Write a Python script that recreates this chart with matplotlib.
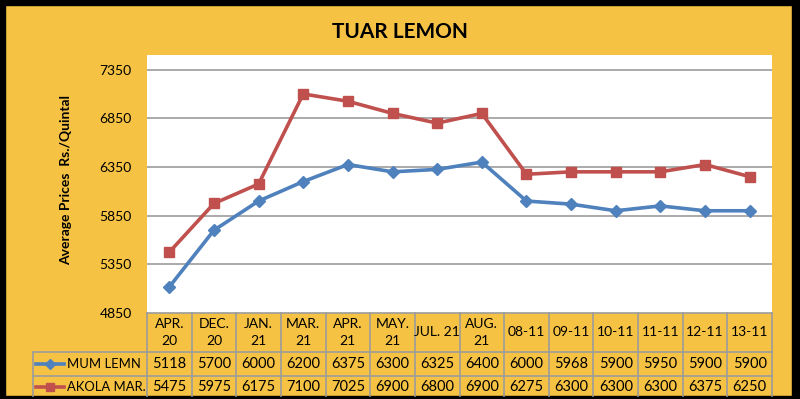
import matplotlib
matplotlib.use("Agg")
import matplotlib.pyplot as plt
from matplotlib.patches import Rectangle
from matplotlib.lines import Line2D

plt.rcParams['font.family'] = ['Lato', 'DejaVu Sans']

title = "TUAR LEMON"
ylabel = "Average Prices  Rs./Quintal"
categories = ["APR.\n20", "DEC.\n20", "JAN.\n21", "MAR.\n21", "APR.\n21", "MAY.\n21", "JUL. 21",
              "AUG.\n21", "08-11", "09-11", "10-11", "11-11", "12-11", "13-11"]
series_names = ["MUM LEMN", "AKOLA MAR."]
mum_lemn = [5118, 5700, 6000, 6200, 6375, 6300, 6325, 6400, 6000, 5968, 5900, 5950, 5900, 5900]
akola_mar = [5475, 5975, 6175, 7100, 7025, 6900, 6800, 6900, 6275, 6300, 6300, 6300, 6375, 6250]
yticks = [4850, 5350, 5850, 6350, 6850, 7350]

W, H = 800, 399
BG = "#F6C244"
BLUE = "#4F81BD"
RED = "#C0504D"
GRID = "#9C9C9C"

fig = plt.figure(figsize=(W / 100, H / 100), dpi=100, facecolor=BG)

def fx(x):
    return x / W

def fy(y):
    return 1 - y / H

# plot area
L, R, T, B = 147, 772, 55, 313
ax = fig.add_axes([fx(L), fy(B), (R - L) / W, (B - T) / H])
ax.set_facecolor("white")
n = len(categories)
xs = list(range(n))
ax.set_xlim(-0.5, n - 0.5)
ax.set_ylim(4850, 7500)
for v in yticks[1:]:
    ax.axhline(v, color=GRID, lw=1.2, zorder=1)
ax.plot(xs, mum_lemn, color=BLUE, lw=2.6, marker='D', ms=6, mfc=BLUE, mec=BLUE, zorder=3)
ax.plot(xs, akola_mar, color=RED, lw=2.6, marker='s', ms=7, mfc=RED, mec=RED, zorder=3)
ax.set_xticks([])
ax.set_yticks(yticks)
ax.set_yticklabels([str(v) for v in yticks], fontsize=10)
ax.tick_params(axis='y', length=0, pad=11)
for s in ax.spines.values():
    s.set_visible(False)

# title and y label
fig.text(fx(400), fy(32), title, ha='center', va='center', fontsize=15, fontweight='bold', color='black')
fig.text(fx(66), fy(180), ylabel, ha='center', va='center', rotation=90, fontsize=10, fontweight='bold', color='black')

# data table
colw = (R - L) / n
rows = [B, 352, 376, 396]
lx = 33
lc = dict(color=GRID, lw=1.2)
fig.add_artist(Line2D([fx(L), fx(R)], [fy(rows[0]), fy(rows[0])], **lc))
for y in rows[1:3]:
    fig.add_artist(Line2D([fx(lx), fx(R)], [fy(y), fy(y)], **lc))
for i in range(n + 1):
    x = L + i * colw
    fig.add_artist(Line2D([fx(x), fx(x)], [fy(rows[0]), fy(rows[3])], **lc))
fig.add_artist(Line2D([fx(lx), fx(lx)], [fy(rows[1]), fy(rows[3])], **lc))

for i, c in enumerate(categories):
    cx = L + (i + 0.5) * colw
    fig.text(fx(cx), fy((rows[0] + rows[1]) / 2), c, ha='center', va='center', fontsize=10,
             linespacing=1.5, color='black')
for r, vals in enumerate([mum_lemn, akola_mar]):
    cy = (rows[r + 1] + rows[r + 2]) / 2 + (1 if r == 1 else 0)
    for i, v in enumerate(vals):
        cx = L + (i + 0.5) * colw
        fig.text(fx(cx), fy(cy), str(v), ha='center', va='center', fontsize=10.5, color='black')

# legend keys
for r, (name, col, mk, ms) in enumerate([(series_names[0], BLUE, 'D', 5), (series_names[1], RED, 's', 6)]):
    cy = (rows[r + 1] + rows[r + 2]) / 2 + (1 if r == 1 else 0)
    fig.add_artist(Line2D([fx(36), fx(64)], [fy(cy), fy(cy)], color=col, lw=2.6))
    fig.add_artist(Line2D([fx(50)], [fy(cy)], color=col, marker=mk, ms=ms, mfc=col, mec=col))
    fig.text(fx(67), fy(cy), name, ha='left', va='center', fontsize=9.4, color='black')

# black frame
fig.add_artist(Rectangle((0, fy(5)), 1, 5 / H, transform=fig.transFigure, color='black'))
fig.add_artist(Rectangle((0, 0), 1, 3 / H, transform=fig.transFigure, color='black'))
fig.add_artist(Rectangle((0, 0), 5 / W, 1, transform=fig.transFigure, color='black'))
fig.add_artist(Rectangle((fx(792), 0), 8 / W, 1, transform=fig.transFigure, color='black'))

fig.savefig("out.png", dpi=100, facecolor=BG)
